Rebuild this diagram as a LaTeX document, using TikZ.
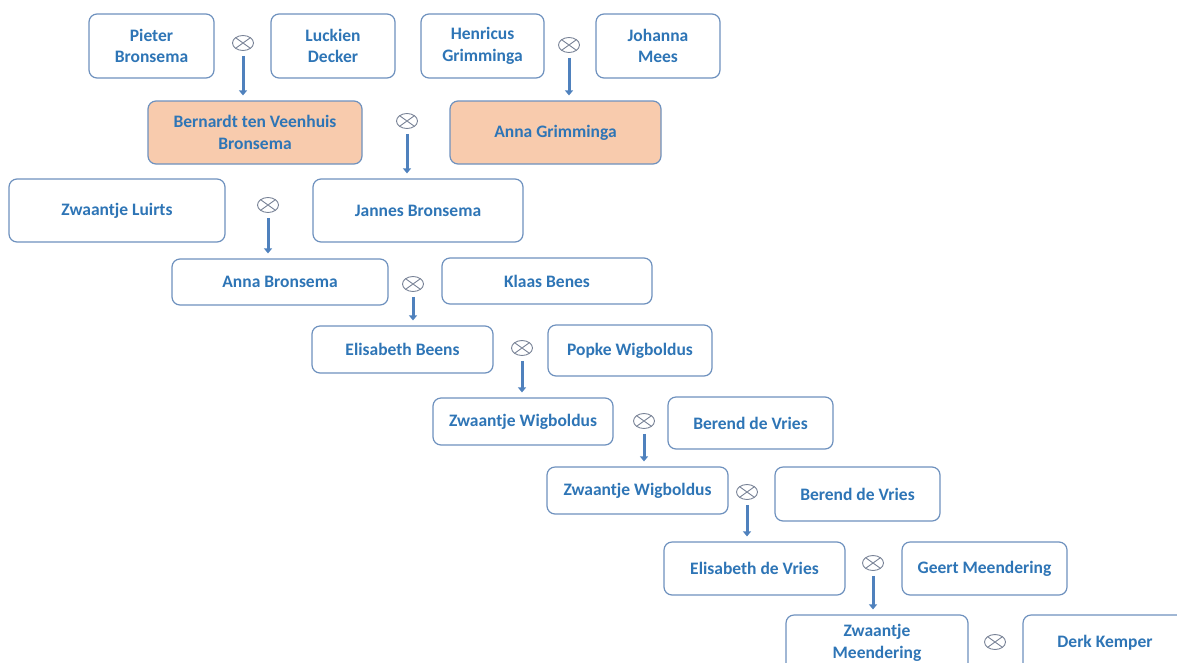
\documentclass[tikz,border=0pt]{standalone}
\usepackage{fontspec}
\setmainfont{Carlito}
\usetikzlibrary{arrows.meta,shapes.geometric}
\definecolor{txt}{RGB}{46,117,182}
\definecolor{edge}{RGB}{110,145,190}
\definecolor{peach}{RGB}{248,203,173}
\definecolor{arrowc}{RGB}{79,129,189}
\definecolor{ring}{RGB}{120,130,150}
\begin{document}
\begin{tikzpicture}[x=1pt,y=-1pt,
 person/.style={draw=edge, line width=1.2pt, rounded corners=8pt, fill=white, text=txt,
   font=\fontsize{17.5}{21.7}\selectfont\bfseries, align=center, inner sep=0pt},
 anc/.style={person, fill=peach},
 wed/.style={ellipse, draw=ring, line width=0.9pt, minimum width=21pt, minimum height=15pt, inner sep=0pt,
   path picture={\draw[ring, line width=0.9pt]
     (path picture bounding box.north west) -- (path picture bounding box.south east)
     (path picture bounding box.north east) -- (path picture bounding box.south west);}},
 desc/.style={draw=arrowc, line width=3pt, -{Triangle[width=8pt,length=5pt]}, shorten <=5pt, shorten >=5pt}
]
\useasboundingbox (0,0) rectangle (1177,662);
\clip (0,0) rectangle (1177,662);

\node[person, minimum width=125pt, minimum height=64pt] (p1) at (151.5,46) {Pieter\\Bronsema};
\node[person, minimum width=124pt, minimum height=64pt] (p2) at (333,46) {Luckien\\Decker};
\node[person, minimum width=123pt, minimum height=64pt] (p3) at (482.5,46) {Henricus\\Grimminga};
\node[person, minimum width=124pt, minimum height=64pt] (p4) at (658,46) {Johanna\\Mees};
\node[anc, minimum width=214pt, minimum height=63pt] (p5) at (255,132.5) {Bernardt ten Veenhuis\\Bronsema};
\node[anc, minimum width=211pt, minimum height=63pt] (p6) at (555.5,132.5) {Anna Grimminga};
\node[person, minimum width=216pt, minimum height=63pt] (p7) at (117,210.5) {Zwaantje Luirts};
\node[person, minimum width=210pt, minimum height=63pt] (p8) at (418,210.5) {Jannes Bronsema};
\node[person, minimum width=216pt, minimum height=46pt] (p9) at (280,282) {Anna Bronsema};
\node[person, minimum width=210pt, minimum height=46pt] (p10) at (547,281) {Klaas Benes};
\node[person, minimum width=181pt, minimum height=47pt] (p11) at (402.5,349.5) {Elisabeth Beens};
\node[person, minimum width=164pt, minimum height=51pt] (p12) at (630,350.5) {Popke Wigboldus};
\node[person, minimum width=180pt, minimum height=47pt] (p13) at (523,421.5) {Zwaantje Wigboldus};
\node[person, minimum width=165pt, minimum height=52pt] (p14) at (750.5,423) {Berend de Vries};
\node[person, minimum width=181pt, minimum height=47pt] (p15) at (637.5,490.5) {Zwaantje Wigboldus};
\node[person, minimum width=165pt, minimum height=54pt] (p16) at (857.5,494) {Berend de Vries};
\node[person, minimum width=181pt, minimum height=53pt] (p17) at (754.5,568.5) {Elisabeth de Vries};
\node[person, minimum width=165pt, minimum height=53pt] (p18) at (984.5,568.5) {Geert Meendering};
\node[person, minimum width=182pt, minimum height=56pt] (p19) at (877,643) {Zwaantje\\Meendering};
\node[person, minimum width=164pt, minimum height=56pt] (p20) at (1105,643) {Derk Kemper};

\node[wed] (m1) at (243,43) {};
\node[wed] (m2) at (569,45) {};
\node[wed] (m3) at (407,121) {};
\node[wed] (m4) at (268,205) {};
\node[wed] (m5) at (413,284) {};
\node[wed] (m6) at (522,348) {};
\node[wed] (m7) at (644,421) {};
\node[wed] (m8) at (747,492) {};
\node[wed] (m9) at (873,563) {};
\node[wed] (m10) at (995,642) {};

\draw[desc] (m1) -- (m1 |- p5.north);
\draw[desc] (m2) -- (m2 |- p6.north);
\draw[desc] (m3) -- (m3 |- p8.north);
\draw[desc] (m4) -- (m4 |- p9.north);
\draw[desc] (m5) -- (m5 |- p11.north);
\draw[desc] (m6) -- (m6 |- p13.north);
\draw[desc] (m7) -- (m7 |- p15.north);
\draw[desc] (m8) -- (m8 |- p17.north);
\draw[desc] (m9) -- (m9 |- p19.north);
\end{tikzpicture}
\end{document}
